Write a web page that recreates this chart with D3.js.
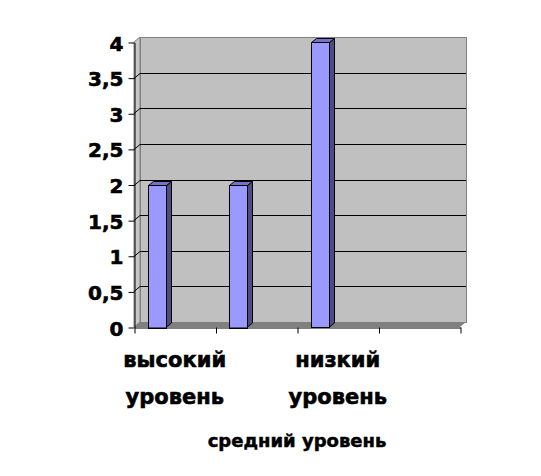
<html>
<head>
    <title>Уровни</title>
    <style type="text/css">
        body{
            margin: 0;
            background-color: #fff;
        }
        .axis text{
            font-family: "DejaVu Sans", Verdana, sans-serif;
            font-weight: bold;
            font-size: 20px;
            fill: #000;
            stroke: #000;
            stroke-width: 0.6px;
        }
        .axis line, .axis path{
            stroke: #000;
            stroke-width: 1px;
        }
        .catLabel, .axisTitle{
            font-family: "DejaVu Sans", Verdana, sans-serif;
            font-weight: bold;
            fill: #000;
            stroke: #000;
            stroke-width: 0.6px;
        }
        .catLabel{ font-size: 21px; }
        .axisTitle{ font-size: 18px; stroke-width: 0.5px; }
    </style>
    <script type="text/javascript" src="https://cdn.jsdelivr.net/npm/d3@7"></script>
</head>
<body>
    <div id="chart"></div>

    <script type="text/javascript">
        // data
        var categories = ['высокий уровень', '', 'низкий уровень', ''];
        var values = [2, 2, 4, null];
        var yTicks = [0, 0.5, 1, 1.5, 2, 2.5, 3, 3.5, 4];
        var xTitle = 'средний уровень';

        var width = 541, height = 476;
        var plotL = 134, plotR = 460, plotB = 327, plotT = 42;
        var wallDx = 6, wallDy = 5;   // depth of the back wall
        var barDx = 5, barDy = 4;     // depth of a bar

        var svg = d3.select('#chart')
            .append('svg')
            .attr('width', width)
            .attr('height', height);

        var xScale = d3.scaleBand()
            .domain(d3.range(categories.length))
            .range([plotL, plotR]);

        var xEdge = d3.scaleLinear()
            .domain([0, categories.length])
            .range([plotL, plotR]);

        var yScale = d3.scaleLinear()
            .domain([0, 4])
            .range([plotB, plotT]);

        var fmt = function(d){ return String(d).replace('.', ','); };

        var y0 = yScale(0), y4 = yScale(4);

        // back wall
        svg.append('rect')
            .attr('x', plotL + wallDx + 0.5)
            .attr('y', y4 - wallDy + 0.5)
            .attr('width', plotR - plotL)
            .attr('height', y0 - y4)
            .attr('fill', '#C0C0C0')
            .attr('stroke', '#808080');

        // side wall
        svg.append('path')
            .attr('d', 'M' + plotL + ',' + y4 + 'L' + (plotL + wallDx) + ',' + (y4 - wallDy) +
                'L' + (plotL + wallDx) + ',' + (y0 - wallDy) + 'L' + plotL + ',' + y0 + 'Z')
            .attr('fill', '#C8C8C8')
            .attr('stroke', '#808080');

        // floor
        svg.append('path')
            .attr('d', 'M' + plotL + ',' + y0 + 'L' + (plotL + wallDx) + ',' + (y0 - wallDy) +
                'L' + (plotR + wallDx) + ',' + (y0 - wallDy) + 'L' + plotR + ',' + y0 + 'Z')
            .attr('fill', '#808080');

        // gridlines
        svg.selectAll('.grid')
            .data(yTicks.filter(function(d){ return d > 0 && d < 4; }))
            .enter()
            .append('path')
            .attr('class', 'grid')
            .attr('fill', 'none')
            .attr('stroke', '#000')
            .attr('d', function(d){
                var y = Math.round(yScale(d)) + 0.5;
                return 'M' + plotL + ',' + y + 'L' + (plotL + wallDx) + ',' + (y - wallDy) +
                    'L' + (plotR + wallDx) + ',' + (y - wallDy);
            });

        // bars
        var bw = xScale.bandwidth();
        var bars = svg.selectAll('.bar')
            .data(values.map(function(v, i){ return {i: i, v: v}; })
                .filter(function(d){ return d.v != null; }))
            .enter()
            .append('g')
            .attr('class', 'bar');

        bars.append('path')
            .attr('fill', '#4D4D80')
            .attr('stroke', '#000')
            .attr('d', function(d){
                var x1 = Math.round(xScale(d.i) + bw * 0.17 + bw * 0.22) + 0.5, y = Math.round(yScale(d.v)) + 0.5;
                return 'M' + x1 + ',' + y + 'L' + (x1 + barDx) + ',' + (y - barDy) +
                    'L' + (x1 + barDx) + ',' + (y0 - barDy) + 'L' + x1 + ',' + y0 + 'Z';
            });

        bars.append('path')
            .attr('fill', '#7373C8')
            .attr('stroke', '#000')
            .attr('d', function(d){
                var x0 = Math.round(xScale(d.i) + bw * 0.17) + 0.5, x1 = Math.round(xScale(d.i) + bw * 0.17 + bw * 0.22) + 0.5;
                var y = Math.round(yScale(d.v)) + 0.5;
                return 'M' + x0 + ',' + y + 'L' + (x0 + barDx) + ',' + (y - barDy) +
                    'L' + (x1 + barDx) + ',' + (y - barDy) + 'L' + x1 + ',' + y + 'Z';
            });

        bars.append('rect')
            .attr('x', function(d){ return Math.round(xScale(d.i) + bw * 0.17) + 0.5; })
            .attr('y', function(d){ return Math.round(yScale(d.v)) + 0.5; })
            .attr('width', Math.round(bw * 0.22))
            .attr('height', function(d){ return Math.round(y0 - yScale(d.v)); })
            .attr('fill', '#9999FF')
            .attr('stroke', '#000');

        // axes
        var yAxis = d3.axisLeft(yScale)
            .tickValues(yTicks)
            .tickSize(6)
            .tickSizeOuter(0)
            .tickPadding(5)
            .tickFormat(fmt);

        svg.append('g')
            .attr('class', 'axis')
            .attr('transform', 'translate(' + (plotL + 0.5) + ',0.5)')
            .call(yAxis)
            .selectAll('text')
            .attr('dy', '0.38em');

        var xAxis = d3.axisBottom(xEdge)
            .tickValues(d3.range(categories.length + 1))
            .tickSize(6)
            .tickSizeOuter(0)
            .tickFormat('');

        svg.append('g')
            .attr('class', 'axis')
            .attr('transform', 'translate(0.5,' + (plotB + 0.5) + ')')
            .call(xAxis);

        // category labels, two lines each
        var labels = svg.selectAll('.catLabel')
            .data(categories.map(function(c, i){ return {i: i, c: c}; })
                .filter(function(d){ return d.c; }))
            .enter()
            .append('text')
            .attr('class', 'catLabel')
            .attr('text-anchor', 'middle');

        labels.selectAll('tspan')
            .data(function(d){
                return d.c.split(' ').map(function(w){ return {i: d.i, w: w}; });
            })
            .enter()
            .append('tspan')
            .attr('x', function(d){ return xScale(d.i) + bw / 2; })
            .attr('y', function(d, j){ return 367 + j * 37; })
            .text(function(d){ return d.w; });

        svg.append('text')
            .attr('class', 'axisTitle')
            .attr('x', (plotL + plotR) / 2)
            .attr('y', 447)
            .attr('text-anchor', 'middle')
            .text(xTitle);
    </script>
</body>
</html>
